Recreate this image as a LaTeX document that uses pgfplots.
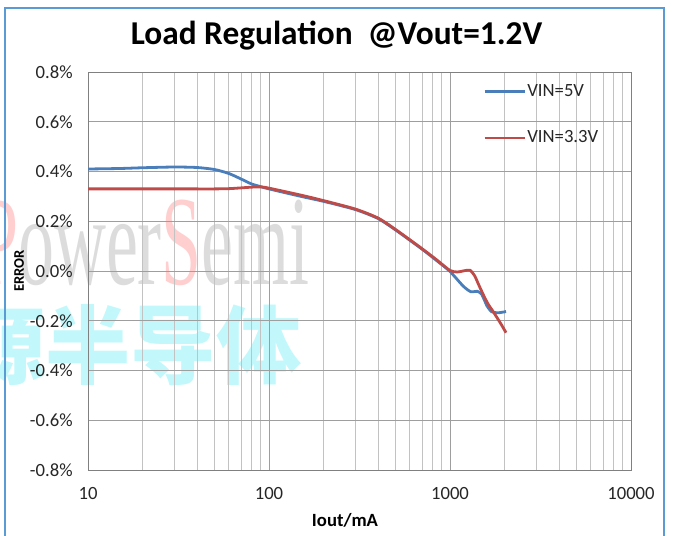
\documentclass[border=0pt]{standalone}
\usepackage{pgfplots}
\pgfplotsset{compat=1.18}
\usepackage{fontspec}
\setmainfont{Carlito}
\newfontfamily\cjk{Noto Sans CJK SC}
\newfontfamily\wmfont{Liberation Serif}
\definecolor{xlblue}{HTML}{4A7EBB}
\definecolor{xlred}{HTML}{BE4B48}
\definecolor{framebl}{HTML}{5B9BD5}
\definecolor{wmcyan}{HTML}{C2F8FB}
\definecolor{wmgray}{HTML}{DCDCDC}
\definecolor{wmpink}{HTML}{FFCFCF}

\pgfplotstableread{
x y
10 0.410
15 0.412
20 0.415
30 0.418
40 0.416
50 0.408
60 0.392
70 0.370
80 0.350
90 0.339
100 0.330
150 0.300
200 0.280
300 0.247
400 0.211
500 0.165
700 0.088
850 0.040
1000 -0.002
1180 -0.060
1300 -0.083
1420 -0.082
1500 -0.095
1600 -0.140
1700 -0.164
1850 -0.168
2040 -0.163
}\tblue

\pgfplotstableread{
x y
10 0.330
20 0.330
30 0.330
40 0.330
50 0.330
60 0.331
70 0.334
80 0.337
90 0.338
100 0.333
150 0.305
200 0.283
300 0.249
400 0.213
500 0.167
700 0.090
850 0.043
1000 0.002
1100 -0.004
1200 0.001
1290 0.003
1370 -0.020
1450 -0.060
1550 -0.105
1630 -0.135
1720 -0.160
1810 -0.185
1920 -0.215
2040 -0.248
}\tred

\begin{document}
\begin{tikzpicture}
\useasboundingbox (-66pt,-48.75pt) rectangle (438.75pt,352.5pt);
\begin{scope}[x=0.75pt,y=-0.75pt,shift={(-88,-470)}]
  \node[anchor=base west, inner sep=0, xscale=0.62, yscale=1.1, font=\wmfont\fontsize{87}{87}\selectfont, text=wmgray]
    at (-22,285) {\textcolor{wmpink}{P}ower\textcolor{wmpink}{S}emi};
  \node[anchor=center, inner sep=0, font=\cjk\bfseries\fontsize{64}{64}\selectfont, text=wmcyan]
    at (131,345) {源半导体};
\end{scope}
\begin{axis}[
  at={(0,0)}, anchor=south west,
  scale only axis, width=407.25pt, height=298.5pt,
  xmode=log, xmin=10, xmax=10000, ymin=-0.8, ymax=0.8,
  xtick={10,100,1000,10000}, xticklabels={10,100,1000,10000},
  ytick={-0.8,-0.6,-0.4,-0.2,0,0.2,0.4,0.6,0.8},
  /pgf/number format/assume math mode=true,
  yticklabel={\pgfmathprintnumber[fixed,fixed zerofill,precision=1]{\tick}\%},
  grid=both,
  major grid style={draw=black!38, line width=0.6pt},
  minor grid style={draw=black!24, line width=0.6pt},
  major tick length=0pt, minor tick length=0pt,
  axis line style={draw=black!50, line width=0.6pt},
  tick label style={font=\fontsize{14}{16}\selectfont, text=black!85},
  yticklabel style={xshift=-8pt},
  xticklabel style={yshift=-9.5pt},
  legend style={at={(rel axis cs:0.7274,0.9724)}, anchor=north west, draw=none, fill=none,
    inner sep=0pt, row sep=22.25pt, font=\fontsize{14}{16}\selectfont,
    nodes={inner sep=1pt, text=black!85}},
  legend cell align=left,
  legend image code/.code={\draw[#1] (0pt,0pt) -- (30pt,0pt);},
]
\addplot[xlblue, line width=2.1pt, smooth, tension=0.4] table[x=x,y=y] {\tblue};
\addlegendentry{VIN=5V}
\addplot[xlred, line width=2.1pt, smooth, tension=0.4] table[x=x,y=y] {\tred};
\addlegendentry{VIN=3.3V}
\end{axis}
\begin{scope}[x=0.75pt,y=-0.75pt,shift={(-88,-470)}]
  \node[font=\bfseries\fontsize{25}{28}\selectfont] at (336.5,36) {Load Regulation\ \ @Vout=1.2V};
  \node[font=\bfseries\fontsize{14}{16}\selectfont] at (345,520) {Iout/mA};
  \node[font=\bfseries\fontsize{11}{13}\selectfont, rotate=90] at (19,271) {ERROR};
  \draw[framebl, line width=1.1pt] (5,545) -- (5,8) -- (664,8) -- (664,545);
\end{scope}
\end{tikzpicture}
\end{document}
